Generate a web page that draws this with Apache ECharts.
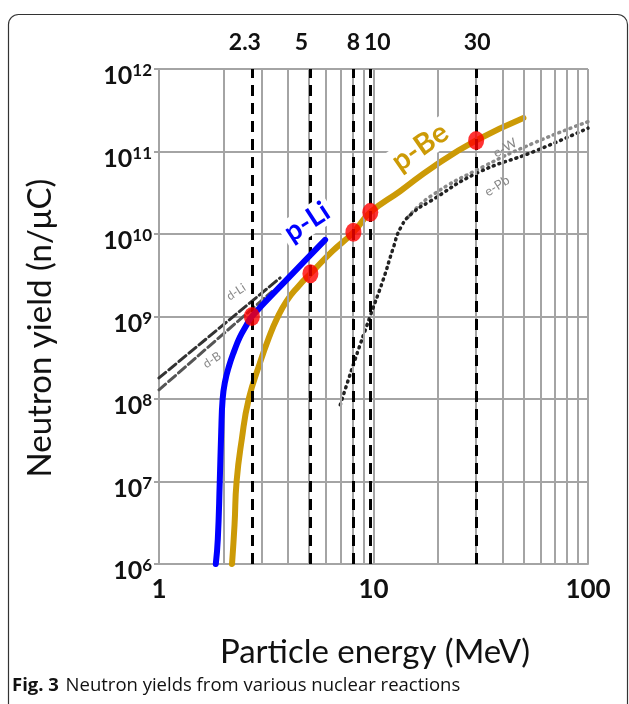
<!DOCTYPE html>
<html>
<head>
<meta charset="utf-8">
<script src="https://cdn.jsdelivr.net/npm/echarts@6/dist/echarts.min.js"></script>
<style>
    html, body { margin: 0; padding: 0; background: #fff; }
    #chart { width: 629px; height: 704px; }
</style>
</head>
<body>
<div id="chart"></div>
<script>
// axis ticks
const xMinorTicks = [2, 3, 4, 5, 6, 7, 8, 9, 20, 30, 40, 50, 60, 70, 80, 90];

// marked energies (dashed lines, drawn where the figure draws them) and their printed labels
const markEnergies = [2.71, 5.08, 8.06, 9.66, 30.1];
const markLabels = ['2.3', '5', '8', '10', '30'];
const markYields = [1.0e9, 3.3e9, 1.05e10, 1.83e10, 1.36e11];

// p-Li
const pLiEnergy = [1.84, 1.88, 1.92, 1.95, 1.98, 2.03, 2.12, 2.24, 2.38, 2.54, 2.71, 3.94, 5.95];
const pLiYield = [1e6, 2e6, 1e7, 4e7, 1e8, 1.6e8, 2.5e8, 3.8e8, 5.6e8, 7.6e8, 1.0e9, 2.8e9, 8.5e9];

// p-Be
const pBeEnergy = [2.19, 2.25, 2.3, 2.43, 2.62, 2.95, 3.25, 3.55, 3.94, 4.45, 5.08, 6.4, 8.06, 9.66, 13.3, 19.1, 30.1, 50];
const pBeYield = [1e6, 3e6, 1e7, 3.2e7, 1e8, 2.7e8, 5.5e8, 9.5e8, 1.55e9, 2.3e9, 3.3e9, 6.1e9, 1.05e10, 1.83e10, 3.3e10, 6.6e10, 1.36e11, 2.55e11];

// d-Li, d-B
const dLiEnergy = [1, 3.67];
const dLiYield = [1.8e8, 2.94e9];
const dBEnergy = [1, 3.36];
const dBYield = [1.29e8, 2.0e9];

// e-Pb, e-W
const ePbEnergy = [7.0, 8.2, 9.66, 11.1, 12.3, 13.4, 15.2, 18.4, 30.4, 56, 100];
const ePbYield = [8.5e7, 3.0e8, 1.02e9, 2.8e9, 6.5e9, 1.2e10, 1.8e10, 2.5e10, 5.48e10, 1.0e11, 1.92e11];
const eWEnergy = [14.5, 18.4, 32.7, 56, 100];
const eWYield = [1.6e10, 2.85e10, 6.6e10, 1.27e11, 2.3e11];

const zip = (xs, ys) => xs.map((x, i) => [x, ys[i]]);

const chart = echarts.init(document.getElementById('chart'));
const gridColor = '#a4a4a4';
const font = 'Lato';
// label nudges for the top labels, as placed in the figure
const labelPad = [[0, 14, 0, 0], [0, 18, 0, 0], [0, 0, 0, 0], [0, 0, 0, 14], [0, 0, 0, 2]];

function curve(name, xs, ys, color, width, type, z) {
    return {
        name, type: 'line', data: zip(xs, ys), showSymbol: false, smooth: 0.5,
        z: z, silent: true,
        lineStyle: { color, width, type, cap: 'round', join: 'round' }
    };
}

function note(text, x, y, deg, color, fontSpec, bg) {
    return {
        type: 'text', z: 100, x, y, rotation: deg * Math.PI / 180, silent: true,
        style: {
            text, fill: color, font: fontSpec, align: 'center', verticalAlign: 'middle',
            backgroundColor: bg || null, padding: bg ? [0, 4] : 0
        }
    };
}

chart.setOption({
    animation: false,
    grid: { left: 159, top: 69, width: 429, height: 495, containLabel: false },
    xAxis: {
        type: 'log', logBase: 10, min: 1, max: 100,
        axisLine: { show: true, lineStyle: { color: gridColor, width: 2 } },
        axisTick: { show: false },
        splitLine: { show: true, lineStyle: { color: gridColor, width: 2 } },
        axisLabel: {
            margin: 13, fontSize: 26, fontWeight: 'bold', fontFamily: font, color: '#111'
        }
    },
    yAxis: {
        type: 'log', logBase: 10, min: 1e6, max: 1e12, interval: 1,
        axisLine: { show: true, lineStyle: { color: gridColor, width: 2 } },
        axisTick: { show: true, length: 5, lineStyle: { color: gridColor, width: 2 } },
        splitLine: { show: true, lineStyle: { color: gridColor, width: 2 } },
        axisLabel: {
            margin: 7, padding: [13, 0, 0, 0],
            formatter: v => '{b|10}{s|' + Math.round(Math.log10(v)) + '}',
            rich: {
                b: { fontSize: 25, fontWeight: 'bold', fontFamily: font, color: '#111', lineHeight: 26, verticalAlign: 'bottom' },
                s: { fontSize: 17, fontWeight: 'bold', fontFamily: font, color: '#111', lineHeight: 16, verticalAlign: 'top' }
            }
        }
    },
    series: [
        {
            // minor vertical grid lines
            type: 'line', data: [], silent: true, z: 1,
            markLine: {
                silent: true, symbol: ['none', 'none'], animation: false,
                label: { show: false },
                lineStyle: { color: gridColor, width: 2, type: 'solid' },
                data: xMinorTicks.map(x => ({ xAxis: x }))
            }
        },
        {
            // dashed marker lines
            type: 'line', data: [], silent: true, z: 2,
            markLine: {
                silent: true, symbol: ['none', 'none'], animation: false,
                lineStyle: { color: '#000', width: 3, type: [11, 7] },
                label: {
                    show: true, position: 'end', distance: 15,
                    fontSize: 23, fontWeight: 'bold', fontFamily: font, color: '#111'
                },
                data: markEnergies.map((x, i) => ({
                    xAxis: x,
                    label: { formatter: markLabels[i], padding: labelPad[i] }
                }))
            }
        },
        curve('d-B', dBEnergy, dBYield, '#555', 3, [9, 4], 3),
        curve('d-Li', dLiEnergy, dLiYield, '#333', 3, [9, 4], 3),
        curve('e-W', eWEnergy, eWYield, '#8a8a8a', 3.5, [1, 5], 3),
        curve('e-Pb', ePbEnergy, ePbYield, '#222', 3.5, [1, 5], 3),
        curve('p-Be', pBeEnergy, pBeYield, '#cc9a06', 6, 'solid', 4),
        curve('p-Li', pLiEnergy, pLiYield, '#0000ff', 6, 'solid', 5),
        {
            type: 'scatter', data: zip(markEnergies, markYields), z: 10, silent: true,
            symbol: 'circle', symbolSize: [16, 19],
            itemStyle: { color: '#ff0000' }
        }
    ],
    graphic: [
        {
            type: 'rect', z: 0, silent: true,
            shape: { x: 8.5, y: 14.5, width: 619, height: 760, r: 10 },
            style: { fill: 'none', stroke: '#333', lineWidth: 1.2 }
        },
        note('p-Li', 307, 222, 33, '#0000ff', 'bold 28px Lato', '#fff'),
        note('p-Be', 420, 147, 35, '#cc9a06', 'bold 29px Lato', '#fff'),
        note('d-Li', 236, 292, 33, '#888', '12px Lato'),
        note('d-B', 212, 360, 33, '#888', '12px Lato'),
        note('e-W', 505, 148, 30, '#888', '13px Lato'),
        note('e-Pb', 497, 186, 32, '#888', '13px Lato'),
        note('Neutron yield (n/\u03bcC)', 40, 328, 90, '#111', '33px Lato'),
        note('Particle energy (MeV)', 375, 652, 0, '#111', '33px Lato'),
        {
            type: 'text', z: 100, x: 12, y: 686, silent: true,
            style: {
                text: '{f|Fig. 3}  {c|Neutron yields from various nuclear reactions}',
                verticalAlign: 'middle',
                rich: {
                    f: { font: 'bold 18.5px "Open Sans"', fill: '#111' },
                    c: { font: '18.5px "Open Sans"', fill: '#111' }
                }
            }
        }
    ]
});
</script>
</body>
</html>
